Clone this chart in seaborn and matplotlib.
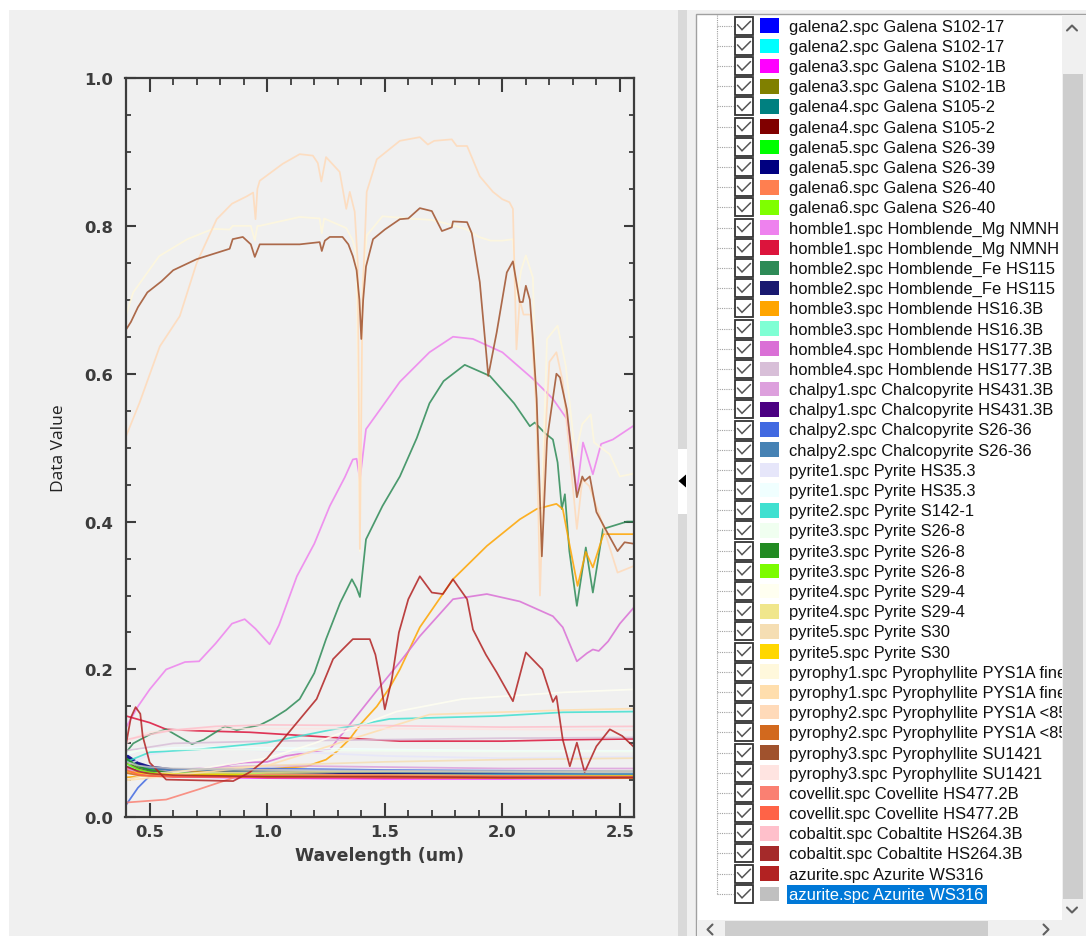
import numpy as np
import pandas as pd
import matplotlib
matplotlib.use("Agg")
import matplotlib.pyplot as plt
from matplotlib.patches import Rectangle, Polygon
from matplotlib.ticker import MultipleLocator
import seaborn as sns

# ---------------------------------------------------------------- legend / tree items
legend_labels = [
    "galena2.spc Galena S102-17", "galena2.spc Galena S102-17",
    "galena3.spc Galena S102-1B", "galena3.spc Galena S102-1B",
    "galena4.spc Galena S105-2", "galena4.spc Galena S105-2",
    "galena5.spc Galena S26-39", "galena5.spc Galena S26-39",
    "galena6.spc Galena S26-40", "galena6.spc Galena S26-40",
    "homble1.spc Homblende_Mg NMNH", "homble1.spc Homblende_Mg NMNH",
    "homble2.spc Homblende_Fe HS115", "homble2.spc Homblende_Fe HS115",
    "homble3.spc Homblende HS16.3B", "homble3.spc Homblende HS16.3B",
    "homble4.spc Homblende HS177.3B", "homble4.spc Homblende HS177.3B",
    "chalpy1.spc Chalcopyrite HS431.3B", "chalpy1.spc Chalcopyrite HS431.3B",
    "chalpy2.spc Chalcopyrite S26-36", "chalpy2.spc Chalcopyrite S26-36",
    "pyrite1.spc Pyrite HS35.3", "pyrite1.spc Pyrite HS35.3",
    "pyrite2.spc Pyrite S142-1",
    "pyrite3.spc Pyrite S26-8", "pyrite3.spc Pyrite S26-8", "pyrite3.spc Pyrite S26-8",
    "pyrite4.spc Pyrite S29-4", "pyrite4.spc Pyrite S29-4",
    "pyrite5.spc Pyrite S30", "pyrite5.spc Pyrite S30",
    "pyrophy1.spc Pyrophyllite PYS1A fine", "pyrophy1.spc Pyrophyllite PYS1A fine",
    "pyrophy2.spc Pyrophyllite PYS1A <85", "pyrophy2.spc Pyrophyllite PYS1A <85",
    "pyrophy3.spc Pyrophyllite SU1421", "pyrophy3.spc Pyrophyllite SU1421",
    "covellit.spc Covellite HS477.2B", "covellit.spc Covellite HS477.2B",
    "cobaltit.spc Cobaltite HS264.3B", "cobaltit.spc Cobaltite HS264.3B",
    "azurite.spc Azurite WS316", "azurite.spc Azurite WS316",
]
legend_colors = [
    "#0000ff", "#00ffff", "#ff00ff", "#808000", "#008080", "#800000",
    "#00ff00", "#000080", "#ff7f50", "#7fff00", "#ee82ee", "#dc143c",
    "#2e8b57", "#191970", "#ffa500", "#7fffd4", "#da70d6", "#d8bfd8",
    "#dda0dd", "#4b0082", "#4169e1", "#4682b4", "#e6e6fa", "#f0ffff",
    "#40e0d0", "#f0fff0", "#228b22", "#7cfc00", "#fffff0", "#f0e68c",
    "#f5deb3", "#ffd700", "#fff8dc", "#ffdead", "#ffdab9", "#d2691e",
    "#a0522d", "#ffe4e1", "#fa8072", "#ff6347", "#ffc0cb", "#a52a2a",
    "#b22222", "#c0c0c0",
]
selected_item = 43

# ---------------------------------------------------------------- axis ticks
xtick_vals = [0.5, 1.0, 1.5, 2.0, 2.5]
xtick_labels = ["0.5", "1.0", "1.5", "2.0", "2.5"]
ytick_vals = [0.0, 0.2, 0.4, 0.6, 0.8, 1.0]
ytick_labels = ["0.0", "0.2", "0.4", "0.6", "0.8", "1.0"]

# ---------------------------------------------------------------- spectra
wl_low = [0.40, 0.45, 0.50, 0.60, 0.80, 1.00, 1.50, 2.00, 2.56]
galena2_a = [0.083, 0.072, 0.068, 0.063, 0.062, 0.061, 0.060, 0.059, 0.057]
galena2_b = [0.072, 0.065, 0.061, 0.058, 0.057, 0.056, 0.055, 0.055, 0.054]
galena3_a = [0.068, 0.060, 0.057, 0.055, 0.054, 0.053, 0.052, 0.052, 0.053]
galena3_b = [0.075, 0.066, 0.062, 0.058, 0.057, 0.056, 0.055, 0.054, 0.054]
galena4_a = [0.078, 0.068, 0.064, 0.060, 0.058, 0.057, 0.056, 0.055, 0.055]
galena4_b = [0.070, 0.063, 0.060, 0.057, 0.056, 0.055, 0.054, 0.054, 0.054]
galena5_a = [0.080, 0.070, 0.065, 0.061, 0.059, 0.058, 0.057, 0.056, 0.056]
galena5_b = [0.085, 0.074, 0.069, 0.065, 0.063, 0.062, 0.060, 0.058, 0.057]
galena6_a = [0.066, 0.060, 0.058, 0.056, 0.055, 0.055, 0.054, 0.053, 0.053]
galena6_b = [0.076, 0.067, 0.062, 0.059, 0.057, 0.056, 0.055, 0.055, 0.055]
hornble2_b = [0.082, 0.072, 0.067, 0.063, 0.062, 0.061, 0.059, 0.058, 0.057]
hornble3_b = [0.070, 0.065, 0.062, 0.060, 0.059, 0.058, 0.057, 0.057, 0.057]
chalpy1_a = [0.065, 0.062, 0.062, 0.064, 0.068, 0.070, 0.068, 0.066, 0.066]
chalpy1_b = [0.074, 0.066, 0.062, 0.059, 0.058, 0.057, 0.056, 0.055, 0.055]
chalpy2_b = [0.078, 0.070, 0.066, 0.064, 0.063, 0.062, 0.061, 0.060, 0.059]
pyrite1_b = [0.085, 0.090, 0.092, 0.094, 0.095, 0.094, 0.092, 0.090, 0.090]
pyrite3_a = [0.088, 0.090, 0.091, 0.092, 0.092, 0.091, 0.090, 0.089, 0.089]
pyrite3_b = [0.079, 0.069, 0.064, 0.060, 0.058, 0.057, 0.056, 0.055, 0.055]
pyrite3_c = [0.073, 0.065, 0.061, 0.058, 0.057, 0.056, 0.055, 0.055, 0.054]
pyrite4_b = [0.060, 0.058, 0.058, 0.059, 0.060, 0.061, 0.062, 0.062, 0.062]
pyrite5_a = [0.050, 0.055, 0.058, 0.062, 0.066, 0.070, 0.075, 0.078, 0.080]
pyrite5_b = [0.062, 0.060, 0.059, 0.058, 0.058, 0.058, 0.057, 0.056, 0.056]
pyrophy2_b = [0.060, 0.057, 0.056, 0.055, 0.055, 0.054, 0.054, 0.053, 0.053]
pyrophy3_b = [0.100, 0.110, 0.115, 0.118, 0.120, 0.120, 0.120, 0.119, 0.118]
covellit_b = [0.064, 0.058, 0.056, 0.055, 0.055, 0.054, 0.054, 0.054, 0.054]
cobaltit_b = [0.069, 0.062, 0.059, 0.057, 0.056, 0.055, 0.055, 0.054, 0.054]
azurite_b = [0.075, 0.070, 0.068, 0.066, 0.065, 0.064, 0.063, 0.062, 0.062]

wl_hornble1_a = [0.40, 0.45, 0.50, 0.57, 0.65, 0.71, 0.78, 0.85, 0.904, 0.95, 1.01, 1.05,
                 1.126, 1.20, 1.266, 1.33, 1.364, 1.38, 1.394, 1.42, 1.49, 1.564, 1.69,
                 1.79, 1.875, 2.00, 2.13, 2.215, 2.274, 2.317, 2.343, 2.36, 2.385, 2.42,
                 2.47, 2.56]
hornble1_a = [0.122, 0.15, 0.173, 0.20, 0.21, 0.211, 0.235, 0.262, 0.268, 0.255, 0.234, 0.26,
              0.326, 0.37, 0.421, 0.46, 0.484, 0.485, 0.457, 0.525, 0.556, 0.589, 0.629,
              0.65, 0.647, 0.629, 0.593, 0.566, 0.539, 0.441, 0.507, 0.49, 0.464, 0.505,
              0.511, 0.53]

wl_hornble1_b = [0.40, 0.50, 0.57, 0.70, 0.926, 1.28, 1.564, 2.00, 2.30, 2.56]
hornble1_b = [0.137, 0.128, 0.119, 0.117, 0.115, 0.108, 0.103, 0.103, 0.105, 0.106]

wl_hornble2_a = [0.40, 0.43, 0.50, 0.57, 0.63, 0.68, 0.73, 0.78, 0.82, 0.87, 0.926, 0.97,
                 1.02, 1.08, 1.138, 1.20, 1.25, 1.31, 1.36, 1.38, 1.394, 1.42, 1.49, 1.564,
                 1.636, 1.69, 1.75, 1.84, 1.947, 2.05, 2.117, 2.138, 2.18, 2.215, 2.235,
                 2.253, 2.266, 2.285, 2.317, 2.355, 2.385, 2.428, 2.53, 2.56]
hornble2_a = [0.088, 0.10, 0.112, 0.119, 0.108, 0.099, 0.105, 0.115, 0.123, 0.118, 0.122, 0.125,
              0.133, 0.145, 0.16, 0.195, 0.241, 0.29, 0.322, 0.31, 0.298, 0.376, 0.421, 0.461,
              0.513, 0.56, 0.59, 0.612, 0.597, 0.56, 0.529, 0.534, 0.52, 0.511, 0.48,
              0.417, 0.437, 0.36, 0.286, 0.365, 0.304, 0.39, 0.40, 0.40]

wl_hornble3_a = [0.40, 0.55, 0.713, 0.85, 0.998, 1.168, 1.25, 1.30, 1.351, 1.40, 1.466, 1.52,
                 1.564, 1.649, 1.79, 1.934, 2.074, 2.146, 2.23, 2.257, 2.285, 2.32, 2.355,
                 2.385, 2.43, 2.56]
hornble3_a = [0.054, 0.058, 0.062, 0.063, 0.065, 0.069, 0.078, 0.09, 0.106, 0.127, 0.15, 0.175,
              0.2, 0.257, 0.322, 0.367, 0.403, 0.417, 0.424, 0.417, 0.37, 0.313, 0.359,
              0.338, 0.383, 0.383]

wl_hornble4_a = [0.40, 0.50, 0.60, 0.70, 0.80, 0.85, 0.90, 1.00, 1.08, 1.266, 1.40, 1.50, 1.564,
                 1.606, 1.649, 1.79, 1.934, 2.074, 2.215, 2.257, 2.317, 2.36, 2.385, 2.41,
                 2.45, 2.50, 2.56]
hornble4_a = [0.06, 0.058, 0.062, 0.064, 0.068, 0.072, 0.074, 0.075, 0.083, 0.092, 0.145, 0.185,
              0.21, 0.227, 0.245, 0.295, 0.302, 0.292, 0.272, 0.257, 0.211, 0.222, 0.227,
              0.225, 0.238, 0.262, 0.284]

wl_hornble4_b = [0.40, 0.60, 1.00, 1.50, 2.00, 2.56]
hornble4_b = [0.09, 0.10, 0.103, 0.105, 0.107, 0.108]

wl_chalpy2_a = [0.40, 0.45, 0.50, 0.60, 1.00, 1.50, 2.00, 2.56]
chalpy2_a = [0.017, 0.04, 0.056, 0.064, 0.066, 0.064, 0.063, 0.062]

wl_pyrite1_a = [0.40, 0.50, 0.70, 1.00, 1.50, 2.00, 2.56]
pyrite1_a = [0.07, 0.085, 0.095, 0.09, 0.083, 0.08, 0.082]

wl_pyrite2 = [0.40, 0.50, 0.713, 0.998, 1.266, 1.52, 1.976, 2.257, 2.56]
pyrite2 = [0.075, 0.088, 0.092, 0.101, 0.118, 0.133, 0.137, 0.142, 0.143]

wl_pyrite4_a = [0.40, 0.80, 1.00, 1.20, 1.40, 1.55, 1.83, 2.26, 2.56]
pyrite4_a = [0.05, 0.07, 0.08, 0.10, 0.125, 0.143, 0.16, 0.169, 0.173]

wl_pyrophy1_a = [0.40, 0.43, 0.54, 0.66, 0.77, 0.84, 0.853, 0.93, 0.947, 0.958, 0.968, 1.138,
                 1.223, 1.232, 1.242, 1.336, 1.364, 1.38, 1.394, 1.405, 1.423, 1.49, 1.60,
                 1.70, 1.80, 1.85, 1.90, 1.95, 2.00, 2.045, 2.06, 2.08, 2.10, 2.13, 2.16,
                 2.19, 2.235, 2.27, 2.31, 2.34, 2.376, 2.39, 2.457, 2.50, 2.56]
pyrophy1_a = [0.68, 0.71, 0.759, 0.782, 0.796, 0.795, 0.80, 0.80, 0.78, 0.80, 0.80, 0.812,
              0.81, 0.79, 0.81, 0.797, 0.78, 0.76, 0.36, 0.72, 0.787, 0.813, 0.81,
              0.808, 0.80, 0.795, 0.785, 0.78, 0.78, 0.782, 0.70, 0.74, 0.76, 0.73, 0.35,
              0.647, 0.665, 0.61, 0.489, 0.532, 0.545, 0.507, 0.491, 0.461, 0.465]

wl_pyrophy1_b = [0.40, 1.00, 1.40, 1.69, 2.26, 2.56]
pyrophy1_b = [0.05, 0.07, 0.11, 0.139, 0.145, 0.147]

wl_pyrophy2_a = [0.40, 0.457, 0.543, 0.628, 0.66, 0.70, 0.785, 0.85, 0.913, 0.94, 0.95, 0.958,
                 0.968, 1.066, 1.138, 1.194, 1.215, 1.23, 1.25, 1.308, 1.336, 1.351, 1.372,
                 1.385, 1.394, 1.405, 1.423, 1.466, 1.564, 1.649, 1.683, 1.71, 1.785, 1.806,
                 1.85, 1.904, 1.96, 2.00, 2.03, 2.045, 2.06, 2.074, 2.09, 2.12, 2.145, 2.16,
                 2.18, 2.20, 2.23, 2.257, 2.317, 2.34, 2.37, 2.415, 2.49, 2.56]
pyrophy2_a = [0.516, 0.561, 0.637, 0.678, 0.71, 0.75, 0.809, 0.83, 0.84, 0.845, 0.809, 0.85,
              0.861, 0.884, 0.897, 0.895, 0.885, 0.86, 0.893, 0.873, 0.823, 0.846, 0.819,
              0.75, 0.363, 0.70, 0.846, 0.89, 0.915, 0.92, 0.91, 0.915, 0.917, 0.908,
              0.908, 0.867, 0.846, 0.836, 0.832, 0.823, 0.633, 0.70, 0.68, 0.68, 0.55, 0.30,
              0.50, 0.616, 0.629, 0.589, 0.39, 0.457, 0.448, 0.407, 0.331, 0.34]

wl_pyrophy3_a = [0.40, 0.42, 0.45, 0.49, 0.55, 0.60, 0.70, 0.80, 0.84, 0.853, 0.896, 0.93,
                 0.947, 0.968, 1.05, 1.138, 1.223, 1.232, 1.245, 1.266, 1.32, 1.345, 1.364,
                 1.38, 1.392, 1.40, 1.408, 1.42, 1.45, 1.50, 1.564, 1.60, 1.649, 1.70, 1.743,
                 1.785, 1.79, 1.85, 1.87, 1.904, 1.93, 1.94, 1.976, 2.019, 2.045, 2.074,
                 2.087, 2.10, 2.117, 2.13, 2.146, 2.168, 2.19, 2.23, 2.245, 2.274, 2.317,
                 2.34, 2.35, 2.372, 2.40, 2.445, 2.49, 2.52, 2.56]
pyrophy3_a = [0.66, 0.67, 0.69, 0.71, 0.725, 0.74, 0.755, 0.765, 0.769, 0.782, 0.785, 0.775,
              0.758, 0.775, 0.775, 0.775, 0.778, 0.766, 0.78, 0.785, 0.785, 0.775, 0.759,
              0.74, 0.70, 0.647, 0.70, 0.745, 0.782, 0.795, 0.809, 0.81, 0.824, 0.82, 0.793,
              0.798, 0.806, 0.805, 0.79, 0.724, 0.633, 0.597, 0.656, 0.737, 0.752, 0.697,
              0.697, 0.719, 0.70, 0.647, 0.566, 0.353, 0.511, 0.60, 0.595, 0.552, 0.433,
              0.461, 0.455, 0.461, 0.413, 0.386, 0.36, 0.372, 0.37]

wl_covellit_a = [0.40, 0.57, 0.71, 0.88, 1.00, 1.50, 2.00, 2.56]
covellit_a = [0.02, 0.024, 0.038, 0.056, 0.058, 0.057, 0.056, 0.055]

wl_cobaltit_a = [0.40, 0.50, 0.60, 0.78, 1.00, 1.50, 2.00, 2.56]
cobaltit_a = [0.105, 0.112, 0.118, 0.123, 0.125, 0.124, 0.122, 0.123]

wl_azurite_a = [0.40, 0.42, 0.44, 0.46, 0.47, 0.50, 0.57, 0.71, 0.855, 0.926, 1.00, 1.066,
                1.21, 1.28, 1.32, 1.364, 1.436, 1.46, 1.48, 1.50, 1.53, 1.56, 1.60, 1.649,
                1.70, 1.747, 1.79, 1.85, 1.875, 1.93, 1.976, 2.045, 2.10, 2.17, 2.215, 2.23,
                2.257, 2.287, 2.317, 2.35, 2.40, 2.457, 2.51, 2.56]
azurite_a = [0.10, 0.135, 0.149, 0.14, 0.11, 0.074, 0.051, 0.05, 0.049, 0.061, 0.08, 0.105,
             0.16, 0.214, 0.227, 0.241, 0.241, 0.22, 0.187, 0.146, 0.187, 0.25, 0.295, 0.326,
             0.304, 0.302, 0.322, 0.295, 0.254, 0.22, 0.196, 0.157, 0.223, 0.2, 0.156, 0.164,
             0.105, 0.069, 0.101, 0.061, 0.096, 0.119, 0.11, 0.095]

series_data = [
    (wl_low, galena2_a), (wl_low, galena2_b), (wl_low, galena3_a), (wl_low, galena3_b),
    (wl_low, galena4_a), (wl_low, galena4_b), (wl_low, galena5_a), (wl_low, galena5_b),
    (wl_low, galena6_a), (wl_low, galena6_b),
    (wl_hornble1_a, hornble1_a), (wl_hornble1_b, hornble1_b),
    (wl_hornble2_a, hornble2_a), (wl_low, hornble2_b),
    (wl_hornble3_a, hornble3_a), (wl_low, hornble3_b),
    (wl_hornble4_a, hornble4_a), (wl_hornble4_b, hornble4_b),
    (wl_low, chalpy1_a), (wl_low, chalpy1_b),
    (wl_chalpy2_a, chalpy2_a), (wl_low, chalpy2_b),
    (wl_pyrite1_a, pyrite1_a), (wl_low, pyrite1_b),
    (wl_pyrite2, pyrite2),
    (wl_low, pyrite3_a), (wl_low, pyrite3_b), (wl_low, pyrite3_c),
    (wl_pyrite4_a, pyrite4_a), (wl_low, pyrite4_b),
    (wl_low, pyrite5_a), (wl_low, pyrite5_b),
    (wl_pyrophy1_a, pyrophy1_a), (wl_pyrophy1_b, pyrophy1_b),
    (wl_pyrophy2_a, pyrophy2_a), (wl_low, pyrophy2_b),
    (wl_pyrophy3_a, pyrophy3_a), (wl_low, pyrophy3_b),
    (wl_covellit_a, covellit_a), (wl_low, covellit_b),
    (wl_cobaltit_a, cobaltit_a), (wl_low, cobaltit_b),
    (wl_azurite_a, azurite_a), (wl_low, azurite_b),
]

# ---------------------------------------------------------------- figure
W, H, DPI = 1086, 937, 100
PANEL = "#f0f0f0"
INK = "#3c3c3c"

sns.set_style("ticks")
plt.rcParams["font.family"] = ["DejaVu Sans"]

fig = plt.figure(figsize=(W / DPI, H / DPI), dpi=DPI, facecolor=PANEL)
renderer = fig.canvas.get_renderer()


def fit_size(s, target_px, **kw):
    t = fig.text(0, 0, s, fontsize=10, **kw)
    w = t.get_window_extent(renderer).width
    t.remove()
    return 10.0 * target_px / w


# UI layer in pixel coordinates (behind the plot)
ui = fig.add_axes([0, 0, 1, 1])
ui.set_xlim(0, W)
ui.set_ylim(H, 0)
ui.axis("off")
ui.set_zorder(0)

# plot axes
L, R, T, B = 125.5, 634.0, 79.0, 818.3
ax = fig.add_axes([L / W, (H - B) / H, (R - L) / W, (B - T) / H])
ax.set_zorder(1)
ax.set_facecolor(PANEL)

frames = []
for i, (wl, val) in enumerate(series_data):
    assert len(wl) == len(val), (i, len(wl), len(val))
    frames.append(pd.DataFrame({"wl": wl, "val": val, "sid": f"s{i:02d}"}))
df = pd.concat(frames, ignore_index=True)
order = [f"s{i:02d}" for i in range(len(series_data))]
pal = {f"s{i:02d}": c for i, c in enumerate(legend_colors)}
sns.lineplot(data=df, x="wl", y="val", hue="sid", hue_order=order, palette=pal,
             estimator=None, sort=False, legend=False, linewidth=1.25, alpha=0.85, ax=ax)

ax.set_xlim(0.397, 2.56)
ax.set_ylim(0.0, 1.0)
for s in ax.spines.values():
    s.set_visible(True)
    s.set_color(INK)
    s.set_linewidth(1.6)

fs_tick = fit_size("1.0", 29, fontweight="bold")
ax.set_xticks(xtick_vals)
ax.set_xticklabels(xtick_labels, fontweight="bold", fontsize=fs_tick, color=INK)
ax.set_yticks(ytick_vals)
ax.set_yticklabels(ytick_labels, fontweight="bold", fontsize=fs_tick, color=INK)
ax.xaxis.set_minor_locator(MultipleLocator(0.1))
ax.yaxis.set_minor_locator(MultipleLocator(0.05))
ax.tick_params(axis="x", which="major", direction="in", length=10, width=1.5, color=INK,
               top=True, bottom=True, pad=5)
ax.tick_params(axis="x", which="minor", direction="in", length=5, width=1.3, color=INK,
               top=True, bottom=True)
ax.tick_params(axis="y", which="major", direction="in", length=7.5, width=1.5, color=INK,
               left=True, right=True, pad=9)
ax.tick_params(axis="y", which="minor", direction="in", length=3.8, width=1.3, color=INK,
               left=True, right=True)

fs_xl = fit_size("Wavelength (um)", 169, fontweight="bold")
ax.set_xlabel("Wavelength (um)", fontweight="bold", fontsize=fs_xl, color=INK, labelpad=5)
fs_yl = fit_size("Data Value", 88, family="Open Sans")
ax.set_ylabel("Data Value", family="Open Sans", fontsize=fs_yl, color="#222222")
ax.yaxis.set_label_coords((67 - L) / (R - L), 0.5)

# ---------------------------------------------------------------- window chrome
ui.add_patch(Rectangle((0, 0), W, 11, color="white", lw=0))
ui.add_patch(Rectangle((0, 0), 9, H, color="white", lw=0))
# splitter
ui.add_patch(Rectangle((678, 11), 9, H - 11, color="#d9d9d9", lw=0))
ui.add_patch(Rectangle((678, 450), 9, 65, color="white", lw=0))
ui.add_patch(Polygon([(678.5, 482), (686, 475.5), (686, 488.5)], closed=True, color="black", lw=0))
# list box
ui.add_patch(Rectangle((696, 15), W - 696 + 5, H - 15 + 5, facecolor="white",
                       edgecolor="#a0a0a0", lw=1.0))

y0, dy = 26.7, 20.19
n = len(legend_labels)
fs_leg = fit_size(legend_labels[0], 214, family="Liberation Sans")
ui.plot([717, 717], [16, y0 + (n - 1) * dy], color="#a0a0a0", lw=0.8, ls=(0, (1, 1)), zorder=2)
for i, (lab, col) in enumerate(zip(legend_labels, legend_colors)):
    yc = y0 + i * dy
    ui.plot([717, 733], [yc, yc], color="#a0a0a0", lw=0.8, ls=(0, (1, 1)), zorder=2)
    ui.add_patch(Rectangle((734.5, yc - 9), 18, 18, facecolor="white", edgecolor="#333333",
                           lw=1.3, zorder=2))
    ui.plot([737.5, 742.0, 750.5], [yc - 1.0, yc + 4.0, yc - 4.5], color="#555555", lw=1.1,
            zorder=3, solid_joinstyle="miter")
    ui.add_patch(Rectangle((760, yc - 7.3), 19, 14.6, color=col, lw=0, zorder=2))
    tcol = "#111111"
    if i == selected_item:
        ui.add_patch(Rectangle((786.5, yc - 9.3), 200.5, 19.3, color="#0078d7", lw=0, zorder=2))
        tcol = "white"
    ui.text(789, yc + 0.5, lab, va="center", ha="left", fontsize=fs_leg,
            family="Liberation Sans", color=tcol, zorder=3)

# vertical scrollbar
ui.add_patch(Rectangle((1062, 16), 30, 905, color=PANEL, lw=0, zorder=5))
ui.add_patch(Rectangle((1063, 75), 20, 825, color="#cdcdcd", lw=0, zorder=6))
ui.plot([1067, 1072, 1077], [31.5, 26.5, 31.5], color="#606060", lw=1.5, zorder=6)
ui.plot([1067, 1072, 1077], [908.5, 913.5, 908.5], color="#606060", lw=1.5, zorder=6)
# horizontal scrollbar
ui.add_patch(Rectangle((697, 921), 400, 20, color=PANEL, lw=0, zorder=5))
ui.add_patch(Rectangle((725, 922), 263, 20, color="#cdcdcd", lw=0, zorder=6))
ui.plot([712.5, 707.5, 712.5], [925.5, 930.5, 935.5], color="#606060", lw=1.5, zorder=6)
ui.plot([1043.5, 1048.5, 1043.5], [925.5, 930.5, 935.5], color="#606060", lw=1.5, zorder=6)

fig.savefig("out.png", dpi=DPI, facecolor=PANEL)
